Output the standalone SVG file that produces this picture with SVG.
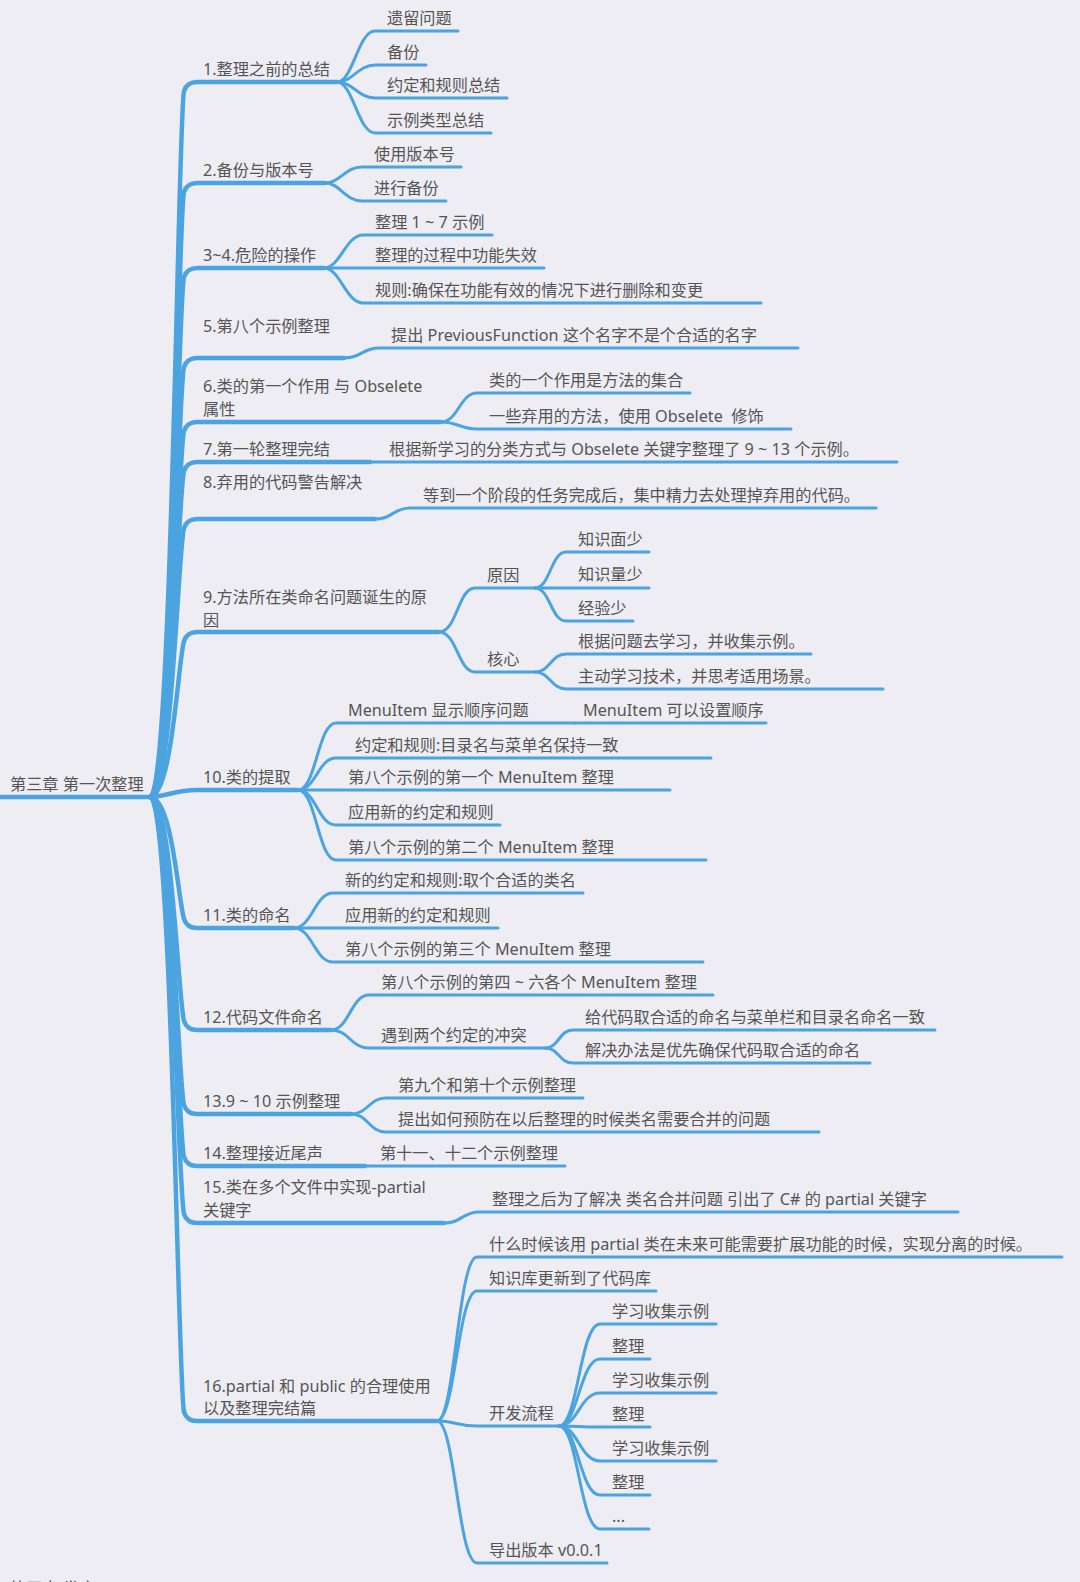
<svg xmlns="http://www.w3.org/2000/svg" width="1080" height="1582" viewBox="0 0 1080 1582">
<style>
.bg{fill:#EDEDF3}
.l1{fill:none;stroke:#4BA4E0;stroke-width:4.5;stroke-linecap:round;stroke-linejoin:round}
.l2{fill:none;stroke:#4BA4E0;stroke-width:3;stroke-linecap:round;stroke-linejoin:round}
text{font-family:"Noto Sans","Noto Sans CJK SC",sans-serif;font-size:16.2px;fill:#555;white-space:pre}
.root{font-size:16.2px}
</style>
<rect class="bg" x="0" y="0" width="1080" height="1582"/>
<g id="connectors">
<path class="l1" d="M0,797 H150"/>
<path class="l1" d="M150,797 C172,797 178,112 184,91 Q187,82 197,82 H337"/>
<path class="l1" d="M150,797 C172,797 178,213 184,192 Q187,183 197,183 H325"/>
<path class="l1" d="M150,797 C172,797 178,298 184,277 Q187,268 197,268 H324"/>
<path class="l1" d="M150,797 C172,797 178,388 184,367 Q187,358 197,358 H344"/>
<path class="l1" d="M150,797 C172,797 178,452 184,431 Q187,422 197,422 H441"/>
<path class="l1" d="M150,797 C172,797 178,492 184,471 Q187,462 197,462 H370"/>
<path class="l1" d="M150,797 C172,797 178,549 184,528 Q187,519 197,519 H375"/>
<path class="l1" d="M150,797 C172,797 178,662 184,641 Q187,632 197,632 H439"/>
<path class="l1" d="M150,797 C165,797 175,790 197,790 H298"/>
<path class="l1" d="M150,797 C172,797 178,898 184,919 Q187,928 197,928 H294"/>
<path class="l1" d="M150,797 C172,797 178,1000 184,1021 Q187,1030 197,1030 H331"/>
<path class="l1" d="M150,797 C172,797 178,1084 184,1105 Q187,1114 197,1114 H351"/>
<path class="l1" d="M150,797 C172,797 178,1136 184,1157 Q187,1166 197,1166 H365"/>
<path class="l1" d="M150,797 C172,797 178,1193 184,1214 Q187,1223 197,1223 H444"/>
<path class="l1" d="M150,797 C172,797 178,1391 184,1412 Q187,1421 197,1421 H437"/>
<path class="l2" d="M337,82 C353,82 358,31 375,31 H458"/>
<path class="l2" d="M337,82 C353,82 358,65 375,65 H426"/>
<path class="l2" d="M337,82 C353,82 358,98 375,98 H507"/>
<path class="l2" d="M337,82 C353,82 358,133 375,133 H491"/>
<path class="l2" d="M325,183 C340,183 345,167 362,167 H461"/>
<path class="l2" d="M325,183 C340,183 345,201 362,201 H446"/>
<path class="l2" d="M324,268 C340,268 346,235 363,235 H492"/>
<path class="l2" d="M324,268 H544"/>
<path class="l2" d="M324,268 C340,268 346,303 363,303 H761"/>
<path class="l2" d="M344,358 C362,358 362,348 379,348 H798"/>
<path class="l2" d="M441,422 C458,422 460,393 477,393 H690"/>
<path class="l2" d="M441,422 C458,422 460,429 477,429 H791"/>
<path class="l2" d="M370,462 H897"/>
<path class="l2" d="M375,519 C393,519 393,508 410,508 H876"/>
<path class="l2" d="M439,632 C457,632 458,588 475,588 H535"/>
<path class="l2" d="M439,632 C457,632 458,672 475,672 H535"/>
<path class="l2" d="M535,588 C550,588 551,552 566,552 H649"/>
<path class="l2" d="M535,588 H649"/>
<path class="l2" d="M535,588 C550,588 551,621 566,621 H633"/>
<path class="l2" d="M535,672 C550,672 551,654 566,654 H811"/>
<path class="l2" d="M535,672 C550,672 551,689 566,689 H883"/>
<path class="l2" d="M298,790 C316,790 318,723 336,723 H575"/>
<path class="l2" d="M575,723 H766"/>
<path class="l2" d="M298,790 C316,790 318,758 336,758 H711"/>
<path class="l2" d="M298,790 H670"/>
<path class="l2" d="M298,790 C316,790 318,825 336,825 H500"/>
<path class="l2" d="M298,790 C316,790 318,860 336,860 H706"/>
<path class="l2" d="M294,928 C312,928 315,893 333,893 H583"/>
<path class="l2" d="M294,928 H498"/>
<path class="l2" d="M294,928 C312,928 315,962 333,962 H703"/>
<path class="l2" d="M331,1030 C349,1030 351,995 369,995 H713"/>
<path class="l2" d="M331,1030 C349,1030 351,1048 369,1048 H545"/>
<path class="l2" d="M545,1048 C559,1048 559,1030 573,1030 H935"/>
<path class="l2" d="M545,1048 C559,1048 559,1063 573,1063 H870"/>
<path class="l2" d="M351,1114 C368,1114 369,1098 386,1098 H583"/>
<path class="l2" d="M351,1114 C368,1114 369,1132 386,1132 H819"/>
<path class="l2" d="M365,1166 H565"/>
<path class="l2" d="M444,1223 C462,1223 462,1212 479,1212 H958"/>
<path class="l2" d="M437,1421 C455,1421 458,1257 477,1257 H1062"/>
<path class="l2" d="M437,1421 C455,1421 458,1291 477,1291 H656"/>
<path class="l2" d="M437,1421 C455,1421 458,1426 477,1426 H559"/>
<path class="l2" d="M437,1421 C455,1421 458,1563 477,1563 H607"/>
<path class="l2" d="M559,1426 C578,1426 580,1324 600,1324 H716"/>
<path class="l2" d="M559,1426 C578,1426 580,1359 600,1359 H650"/>
<path class="l2" d="M559,1426 C578,1426 580,1393 600,1393 H716"/>
<path class="l2" d="M559,1426 C578,1426 580,1427 600,1427 H650"/>
<path class="l2" d="M559,1426 C578,1426 580,1461 600,1461 H716"/>
<path class="l2" d="M559,1426 C578,1426 580,1495 600,1495 H650"/>
<path class="l2" d="M559,1426 C578,1426 580,1529 600,1529 H649"/>
</g>
<g id="root"><text class="root" x="10" y="790">第三章 第一次整理</text></g>
<g id="n1"><text x="203" y="75">1.整理之前的总结</text></g>
<g id="n1a"><text x="387" y="24">遗留问题</text></g>
<g id="n1b"><text x="387" y="58">备份</text></g>
<g id="n1c"><text x="387" y="91">约定和规则总结</text></g>
<g id="n1d"><text x="387" y="126">示例类型总结</text></g>
<g id="n2"><text x="203" y="176">2.备份与版本号</text></g>
<g id="n2a"><text x="374" y="160">使用版本号</text></g>
<g id="n2b"><text x="374" y="194">进行备份</text></g>
<g id="n3"><text x="203" y="261">3~4.危险的操作</text></g>
<g id="n3a"><text x="375" y="228">整理 1 ~ 7 示例</text></g>
<g id="n3b"><text x="375" y="261">整理的过程中功能失效</text></g>
<g id="n3c"><text x="375" y="296">规则:确保在功能有效的情况下进行删除和变更</text></g>
<g id="n5"><text x="203" y="332">5.第八个示例整理</text></g>
<g id="n5a"><text x="391" y="341">提出 PreviousFunction 这个名字不是个合适的名字</text></g>
<g id="n6"><text x="203" y="392">6.类的第一个作用 与 Obselete</text><text x="203" y="415">属性</text></g>
<g id="n6a"><text x="489" y="386">类的一个作用是方法的集合</text></g>
<g id="n6b"><text x="489" y="422">一些弃用的方法，使用 Obselete  修饰</text></g>
<g id="n7"><text x="203" y="455">7.第一轮整理完结</text></g>
<g id="n7a"><text x="389" y="455">根据新学习的分类方式与 Obselete 关键字整理了 9 ~ 13 个示例。</text></g>
<g id="n8"><text x="203" y="488">8.弃用的代码警告解决</text></g>
<g id="n8a"><text x="423" y="501">等到一个阶段的任务完成后，集中精力去处理掉弃用的代码。</text></g>
<g id="n9"><text x="203" y="603">9.方法所在类命名问题诞生的原</text><text x="203" y="626">因</text></g>
<g id="n9a"><text x="487" y="581">原因</text></g>
<g id="n9a1"><text x="578" y="545">知识面少</text></g>
<g id="n9a2"><text x="578" y="580">知识量少</text></g>
<g id="n9a3"><text x="578" y="614">经验少</text></g>
<g id="n9b"><text x="487" y="665">核心</text></g>
<g id="n9b1"><text x="578" y="647">根据问题去学习，并收集示例。</text></g>
<g id="n9b2"><text x="578" y="682">主动学习技术，并思考适用场景。</text></g>
<g id="n10"><text x="203" y="783">10.类的提取</text></g>
<g id="n10a"><text x="348" y="716">MenuItem 显示顺序问题</text></g>
<g id="n10a1"><text x="583" y="716">MenuItem 可以设置顺序</text></g>
<g id="n10b"><text x="355" y="751">约定和规则:目录名与菜单名保持一致</text></g>
<g id="n10c"><text x="348" y="783">第八个示例的第一个 MenuItem 整理</text></g>
<g id="n10d"><text x="348" y="818">应用新的约定和规则</text></g>
<g id="n10e"><text x="348" y="853">第八个示例的第二个 MenuItem 整理</text></g>
<g id="n11"><text x="203" y="921">11.类的命名</text></g>
<g id="n11a"><text x="345" y="886">新的约定和规则:取个合适的类名</text></g>
<g id="n11b"><text x="345" y="921">应用新的约定和规则</text></g>
<g id="n11c"><text x="345" y="955">第八个示例的第三个 MenuItem 整理</text></g>
<g id="n12"><text x="203" y="1023">12.代码文件命名</text></g>
<g id="n12a"><text x="381" y="988">第八个示例的第四 ~ 六各个 MenuItem 整理</text></g>
<g id="n12b"><text x="381" y="1041">遇到两个约定的冲突</text></g>
<g id="n12b1"><text x="585" y="1023">给代码取合适的命名与菜单栏和目录名命名一致</text></g>
<g id="n12b2"><text x="585" y="1056">解决办法是优先确保代码取合适的命名</text></g>
<g id="n13"><text x="203" y="1107">13.9 ~ 10 示例整理</text></g>
<g id="n13a"><text x="398" y="1091">第九个和第十个示例整理</text></g>
<g id="n13b"><text x="398" y="1125">提出如何预防在以后整理的时候类名需要合并的问题</text></g>
<g id="n14"><text x="203" y="1159">14.整理接近尾声</text></g>
<g id="n14a"><text x="380" y="1159">第十一、十二个示例整理</text></g>
<g id="n15"><text x="203" y="1193">15.类在多个文件中实现-partial</text><text x="203" y="1216">关键字</text></g>
<g id="n15a"><text x="492" y="1205">整理之后为了解决 类名合并问题 引出了 C# 的 partial 关键字</text></g>
<g id="n16"><text x="203" y="1392">16.partial 和 public 的合理使用</text><text x="203" y="1414">以及整理完结篇</text></g>
<g id="n16a"><text x="489" y="1250">什么时候该用 partial 类在未来可能需要扩展功能的时候，实现分离的时候。</text></g>
<g id="n16b"><text x="489" y="1284">知识库更新到了代码库</text></g>
<g id="n16c"><text x="489" y="1419">开发流程</text></g>
<g id="n16c1"><text x="612" y="1317">学习收集示例</text></g>
<g id="n16c2"><text x="612" y="1352">整理</text></g>
<g id="n16c3"><text x="612" y="1386">学习收集示例</text></g>
<g id="n16c4"><text x="612" y="1420">整理</text></g>
<g id="n16c5"><text x="612" y="1454">学习收集示例</text></g>
<g id="n16c6"><text x="612" y="1488">整理</text></g>
<g id="n16c7"><text x="612" y="1522">...</text></g>
<g id="n16d"><text x="489" y="1556">导出版本 v0.0.1</text></g>
<g id="next"><text class="root" x="10" y="1594">第四章 类库</text></g>
</svg>
